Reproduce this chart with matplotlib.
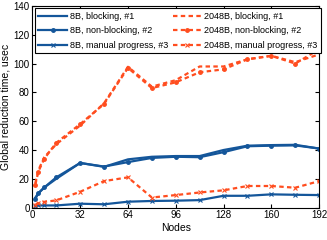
import numpy as np
import matplotlib.pyplot as plt

plt.rcParams['font.family'] = ['Liberation Sans', 'DejaVu Sans']

nodes = [2, 4, 8, 16, 32, 48, 64, 80, 96, 112, 128, 144, 160, 176, 192]

# 8B message size
b8_blocking = [7, 10, 14, 20, 31, 28.3, 33.5, 35.3, 35.8, 35.8, 40, 43, 43.4, 43.6, 41]
b8_nonblock = [6, 10, 14, 21, 31, 28.5, 31.6, 34.5, 35.3, 35, 38.5, 42.6, 43, 43.2, 41]
b8_manual = [1, 1.5, 1.5, 1.5, 2.7, 2.3, 4.1, 4.6, 4.8, 5.2, 8.2, 8.2, 9.2, 8.9, 8.7]

# 2048B message size
b2048_blocking = [17, 26, 35, 44, 57, 72.5, 97.8, 84, 88.5, 98, 98, 103, 105.4, 101, 106.4]
b2048_nonblock = [16, 25, 34, 45, 58, 72, 97, 83, 87, 94, 96, 103, 105.4, 100, 110]
b2048_manual = [2, 3, 4, 5, 11, 18.4, 21, 7, 8.7, 10.5, 12, 15, 15, 13.8, 18.4]

blue = '#14569a'
red = '#ff4d1f'

fig = plt.figure(figsize=(3.27, 2.4), dpi=100)
ax = fig.add_axes([0.099, 0.135, 0.877, 0.84])

ax.plot(nodes, b8_blocking, color=blue, lw=1.6, label='8B, blocking, #1')
ax.plot(nodes, b8_nonblock, color=blue, lw=1.6, marker='.', ms=5, label='8B, non-blocking, #2')
ax.plot(nodes, b8_manual, color=blue, lw=1.6, marker='x', ms=3.5, mew=0.8, label='8B, manual progress, #3')
ax.plot(nodes, b2048_blocking, color=red, lw=1.6, ls=(0, (2, 1.5)), label='2048B, blocking, #1')
ax.plot(nodes, b2048_nonblock, color=red, lw=1.6, ls=(0, (2, 1.5)), marker='.', ms=5, label='2048B, non-blocking, #2')
ax.plot(nodes, b2048_manual, color=red, lw=1.6, ls=(0, (2, 1.5)), marker='x', ms=3.5, mew=0.8, label='2048B, manual progress, #3')

ax.set_xlim(0, 192)
ax.set_ylim(0, 140)
ax.set_xticks(np.arange(0, 193, 32))
ax.set_yticks(np.arange(0, 141, 20))
ax.tick_params(direction='in', top=True, right=True, labelsize=7, length=3, pad=2)
ax.set_xlabel('Nodes', fontsize=7.5, labelpad=2)
ax.set_ylabel('Global reduction time, usec', fontsize=7.5, labelpad=2)

leg = ax.legend(loc='upper left', ncol=2, fontsize=6.5, handlelength=3.2,
                fancybox=False, edgecolor='black', framealpha=1,
                borderaxespad=0.25, columnspacing=0.5, handletextpad=0.3,
                labelspacing=0.6, borderpad=0.4)
leg.get_frame().set_linewidth(0.8)

fig.savefig('out.png', dpi=100)
